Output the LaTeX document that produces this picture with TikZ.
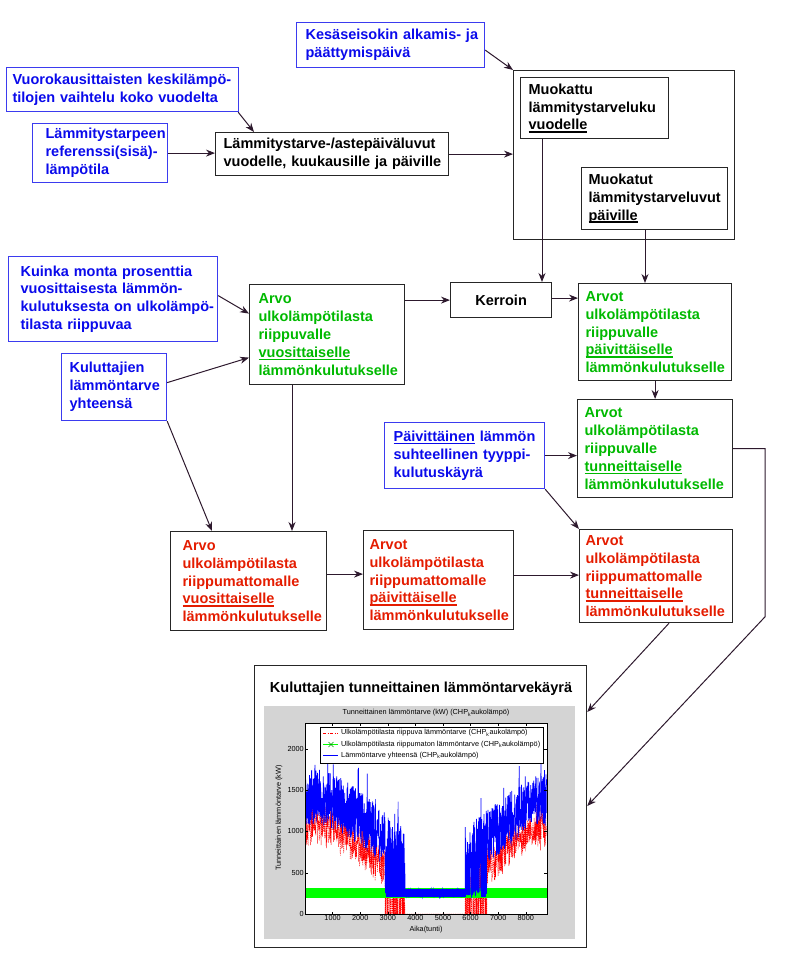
\documentclass[tikz,border=0pt]{standalone}
\usepackage{fontspec}
\setmainfont{Liberation Sans}
\usetikzlibrary{arrows.meta}

\hyphenpenalty=10000
\exhyphenpenalty=10000

\definecolor{sininen}{RGB}{10,10,235}
\definecolor{vihrea}{RGB}{0,185,0}
\definecolor{punainen}{RGB}{228,28,0}
\definecolor{nuolivari}{RGB}{45,25,45}
\definecolor{paneeli}{RGB}{212,212,212}

\newcommand{\viiva}[1]{\leavevmode\setbox0\hbox{#1}\rlap{\rule[-2.6pt]{\wd0}{1.4pt}}\box0}

\begin{document}
\begin{tikzpicture}[x=1pt,y=-1pt,
    font=\bfseries\fontsize{14.5}{17.9}\selectfont,
    laatikko/.style={draw=black!85,line width=1.2pt,align=left,anchor=north west,inner ysep=0pt},
    syote/.style={laatikko,draw=sininen!80,text=sininen},
    riippuva/.style={laatikko,text=vihrea},
    riippumaton/.style={laatikko,text=punainen},
    nuoli/.style={draw=nuolivari,line width=1pt,-{Stealth[length=9pt,width=7pt]}},
    pieni/.style={font=\mdseries\fontsize{7.3}{8.6}\selectfont,inner sep=1pt},
    declare function={perus(\t)=680+400*cos(360*(\t-0.32)/8.76);
        kesakausi(\t)=and(\t>3.62,\t<5.8);
        reunakausi(\t)=or(and(\t>2.9,\t<3.62),and(\t>5.8,\t<6.6));}]
\useasboundingbox (0,0) rectangle (785,961);

\node [syote,minimum width=188pt,minimum height=45pt,text width=170pt,inner xsep=9pt] (seisokki) at (296,22)
    {Kesäseisokin~alkamis-~ja\\päättymispäivä};
\node [syote,minimum width=232pt,minimum height=44pt,text width=220pt,inner xsep=6pt] (vaihtelu) at (6,67)
    {Vuorokausittaisten~keskilämpö-\\tilojen~vaihtelu~koko~vuodelta};
\node [syote,minimum width=135pt,minimum height=59pt,text width=109pt,inner xsep=13pt] (referenssi) at (32,123)
    {Lämmitystarpeen\\referenssi(sisä)-\\lämpötila};
\node [laatikko,minimum width=233pt,minimum height=43pt,text width=217pt,inner xsep=8pt] (astepaiva) at (215,132)
    {Lämmitystarve-/astepäiväluvut\\vuodelle,~kuukausille~ja~päiville};

\node [laatikko,minimum width=221pt,minimum height=169pt] (muokkaus) at (513,70) {};
\node [laatikko,minimum width=148pt,minimum height=61pt,text width=132pt,inner xsep=8pt] (vuosiluku) at (520,77)
    {Muokattu\\lämmitystarveluku\\\viiva{vuodelle}};
\node [laatikko,minimum width=146pt,minimum height=62pt,text width=132pt,inner xsep=7pt] (paivaluvut) at (581,167)
    {Muokatut\\lämmitystarveluvut\\\viiva{päiville}};

\node [syote,minimum width=209pt,minimum height=85pt,text width=185pt,inner xsep=12pt] (osuus) at (8,256)
    {Kuinka~monta~prosenttia\\vuosittaisesta~lämmön-\\kulutuksesta~on~ulkolämpö-\\tilasta~riippuvaa};
\node [syote,minimum width=105pt,minimum height=67pt,text width=89pt,inner xsep=8pt] (kokonais) at (61,353)
    {Kuluttajien\\lämmöntarve\\yhteensä};
\node [riippuva,minimum width=155pt,minimum height=100pt,text width=137pt,inner xsep=9pt] (riippuvavuosi) at (249,284)
    {Arvo\\ulkolämpötilasta\\riippuvalle\\\viiva{vuosittaiselle}\\lämmönkulutukselle};
\node [laatikko,align=center,minimum width=101pt,minimum height=35pt] (kerroin) at (450,282) {Kerroin};
\node [riippuva,minimum width=153pt,minimum height=97pt,text width=139pt,inner xsep=7pt] (riippuvapaiva) at (578,283)
    {Arvot\\ulkolämpötilasta\\riippuvalle\\\viiva{päivittäiselle}\\lämmönkulutukselle};
\node [riippuva,minimum width=155pt,minimum height=98pt,text width=141pt,inner xsep=7pt] (riippuvatunti) at (577,399)
    {Arvot\\ulkolämpötilasta\\riippuvalle\\\viiva{tunneittaiselle}\\lämmönkulutukselle};
\node [syote,minimum width=160pt,minimum height=66pt,text width=142pt,inner xsep=9pt] (tyyppikayra) at (384,422)
    {\viiva{Päivittäinen}~lämmön\\suhteellinen~tyyppi-\\kulutuskäyrä};

\node [riippumaton,minimum width=156pt,minimum height=99pt,text width=132pt,inner xsep=12pt] (vakiovuosi) at (170,531)
    {Arvo\\ulkolämpötilasta\\riippumattomalle\\\viiva{vuosittaiselle}\\lämmönkulutukselle};
\node [riippumaton,minimum width=150pt,minimum height=99pt,text width=138pt,inner xsep=6pt] (vakiopaiva) at (363,530)
    {Arvot\\ulkolämpötilasta\\riippumattomalle\\\viiva{päivittäiselle}\\lämmönkulutukselle};
\node [riippumaton,minimum width=153pt,minimum height=93pt,text width=141pt,inner xsep=6pt] (vakiotunti) at (579,529)
    {Arvot\\ulkolämpötilasta\\riippumattomalle\\\viiva{tunneittaiselle}\\lämmönkulutukselle};

\node [laatikko,minimum width=332pt,minimum height=282pt] (kayra) at (254,665) {};
\node (kayraotsikko) at (421,689) {Kuluttajien tunneittainen lämmöntarvekäyrä};

\coordinate (vaihtelukulma) at ([xshift=-1pt]vaihtelu.south east);
\coordinate (astekohta) at ([xshift=39pt]astepaiva.north west);
\coordinate (vuosialas) at ([xshift=22pt]vuosiluku.south west);
\coordinate (paivaalas) at ([xshift=64pt]paivaluvut.south west);
\coordinate (vakiokohta) at ([xshift=42pt]vakiovuosi.north west);
\coordinate (riippuvaalas) at ([xshift=43pt]riippuvavuosi.south west);
\coordinate (tuntialas) at ([xshift=90pt]vakiotunti.south west);

\draw [nuoli] ([yshift=-5pt]seisokki.east) -- (muokkaus.north west);
\draw [nuoli] (vaihtelukulma) -- (astekohta);
\draw [nuoli] (referenssi.east) -- (referenssi.east -| astepaiva.west);
\draw [nuoli] (astepaiva.east) -- (astepaiva.east -| muokkaus.west);
\draw [nuoli] (vuosialas) -- (vuosialas |- kerroin.north);
\draw [nuoli] (paivaalas) -- (paivaalas |- riippuvapaiva.north);
\draw [nuoli] (kerroin.west -| riippuvavuosi.east) -- (kerroin.west);
\draw [nuoli] ([yshift=2pt]kerroin.east) -- ([yshift=2pt]kerroin.east -| riippuvapaiva.west);
\draw [nuoli] ([yshift=3.5pt]osuus.east) -- ([yshift=21pt]riippuvavuosi.west);
\draw [nuoli] ([yshift=4.5pt]kokonais.east) -- ([yshift=-23pt]riippuvavuosi.west);
\draw [nuoli] (kokonais.south east) -- (vakiokohta);
\draw [nuoli] (riippuvaalas) -- (riippuvaalas |- vakiovuosi.north);
\draw [nuoli] (riippuvapaiva) -- (riippuvatunti);
\draw [nuoli] (tyyppikayra.east) -- (tyyppikayra.east -| riippuvatunti.west);
\draw [nuoli] (tyyppikayra.south east) -- (vakiotunti.north west);
\draw [nuoli] ([yshift=7pt]vakiovuosi.east) -- ([yshift=7pt]vakiovuosi.east -| vakiopaiva.west);
\draw [nuoli] ([yshift=5pt]vakiopaiva.east) -- ([yshift=5pt]vakiopaiva.east -| vakiotunti.west);
\draw [nuoli] (tuntialas) -- ([yshift=-47pt]kayra.north east);
\draw [nuoli] (riippuvatunti.east) -- ++(32,0) -- ++(0,168) -- ([yshift=-141pt]kayra.north east);

% kuvaaja
\fill [paneeli] (264,706) rectangle (575,939);
\fill [white] (305,723) rectangle (547,914);
\node [pieni] (kuvaotsikko) at (426,713) {Tunneittainen lämmöntarve (kW) (CHP\textsubscript{k}aukolämpö)};
\node [pieni,rotate=90] (ykselite) at (279,818) {Tunneittainen lämmöntarve (kW)};
\node [pieni] (xselite) at (426,930) {Aika(tunti)};
\pgfmathsetseed{4711}
\begin{scope}[shift={(305,914)},x=27.6pt,y=0.0826pt]
    \begin{scope}
        \clip (0,0) rectangle (8.76,2310);
        \draw [red,line width=0.45pt,dash pattern=on 1.3pt off 0.9pt]
            plot [domain=0.01:8.75,samples=1400,variable=\t]
            (\t,{kesakausi(\t) ? 0 : ((reunakausi(\t) && (rnd<0.35)) ? 0 : max(0,perus(\t)+190*rand+110*rand))});
        \fill [green] (0,195) rectangle (8.76,315);
        \draw [blue,line width=0.7pt]
            plot [domain=0.01:8.75,samples=1400,variable=\t]
            (\t,{kesakausi(\t) ? 255+40*rand : ((reunakausi(\t) && (rnd<0.4)) ? 255+40*rand : perus(\t)+330+330*rand+((rnd>0.95) ? 450*rnd : 0))});
        \fill [blue] (2.95,205) rectangle (5.85,302);
        \fill [blue] (6.38,205) rectangle (6.56,302);
    \end{scope}
    \draw [line width=0.5pt] (0,0) rectangle (8.76,2310);
    \foreach \k in {1,...,8} {
        \draw [line width=0.4pt] (\k,0) -- ++(0pt,2.5pt) (\k,2310) -- ++(0pt,-2.5pt);
        \node [pieni,anchor=north] at (\k,0) {\k000};
    }
    \foreach \v in {0,500,...,2000} {
        \draw [line width=0.4pt] (0,\v) -- ++(2.5pt,0pt) (8.76,\v) -- ++(-2.5pt,0pt);
        \node [pieni,anchor=east] at (0,\v) {\v};
    }
\end{scope}
\draw [fill=white,line width=0.5pt] (320,727) rectangle (543,763);
\draw [red,line width=0.6pt,dash pattern=on 3pt off 1.5pt on 1pt off 1.5pt] (323,733) -- (338,733);
\draw [green,line width=0.8pt] (323,744.5) -- (338,744.5);
\draw [green!60!black,line width=0.4pt] (328.5,742) -- (333.5,747) (328.5,747) -- (333.5,742);
\draw [blue,line width=0.6pt] (323,755.5) -- (338,755.5);
\node [pieni,anchor=west] (selite1) at (340,733) {Ulkolämpötilasta riippuva lämmöntarve (CHP\textsubscript{k}aukolämpö)};
\node [pieni,anchor=west] (selite2) at (340,744.5) {Ulkolämpötilasta riippumaton lämmöntarve (CHP\textsubscript{k}aukolämpö)};
\node [pieni,anchor=west] (selite3) at (340,755.5) {Lämmöntarve yhteensä (CHP\textsubscript{k}aukolämpö)};
\end{tikzpicture}
\end{document}
